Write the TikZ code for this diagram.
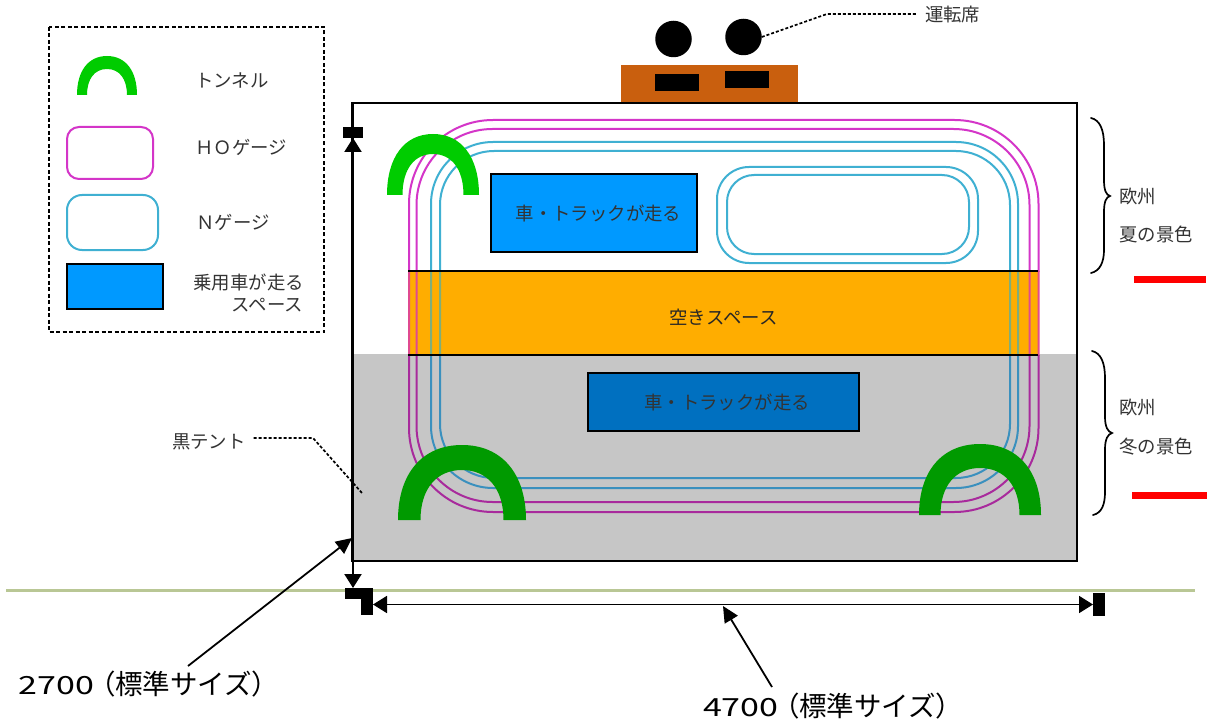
\documentclass[tikz,border=0pt]{standalone}
\usepackage{fontspec}
\setmainfont{Noto Sans CJK JP}
\newfontfamily\widedigits[FakeStretch=1.36]{Noto Sans CJK JP}
\newfontfamily\tightparen[RawFeature=+palt]{Noto Sans CJK JP}
\usetikzlibrary{arrows.meta,calc}
\definecolor{hoLine}{HTML}{D435C8}
\definecolor{nLine}{HTML}{3FB0D2}
\definecolor{hoOrange}{HTML}{E04A90}
\definecolor{nOrange}{HTML}{7FAE7A}
\definecolor{hoGray}{HTML}{A82A9C}
\definecolor{nGray}{HTML}{3A90BE}
\definecolor{tunnelLight}{HTML}{00CC00}
\definecolor{tunnelDark}{HTML}{009A00}
\definecolor{skyBox}{HTML}{0099FF}
\definecolor{deepBox}{HTML}{0070C0}
\definecolor{spare}{HTML}{FFAD00}
\definecolor{tent}{HTML}{C6C6C6}
\definecolor{cab}{HTML}{C95F0E}
\definecolor{ground}{HTML}{B9C795}
\definecolor{ink}{HTML}{333333}
\tikzset{
  every node/.style={inner sep=0pt,outer sep=0pt},
  label18/.style={font=\fontsize{18.4}{22}\selectfont,text=ink},
  sizelabel/.style={font=\fontsize{27.5}{32}\selectfont,text=black,anchor=west},
  blockbar/.style={fill=black,rectangle},
  dimarrow/.style={{Triangle[length=14pt,width=17pt]}-{Triangle[length=14pt,width=17pt]},line width=2.2pt},
  callout/.style={-{Triangle[length=16pt,width=15pt]},line width=1.8pt},
  leader/.style={densely dashed,line width=1.7pt,black},
  bracestroke/.style={line width=1.7pt,black,line cap=round},
  track/.style={line width=2pt}
}
% tunnel: centre x, base y, outer rx, outer ry, inner rx, inner ry, colour
\newcommand{\tunnelshape}[7]{%
  \fill[#7] (#1-#3,#2) .. controls (#1-#3,#2-0.62*#4) and (#1-0.62*#3,#2-#4) .. (#1,#2-#4)
    .. controls (#1+0.62*#3,#2-#4) and (#1+#3,#2-0.62*#4) .. (#1+#3,#2)
    -- (#1+#5,#2)
    .. controls (#1+#5,#2-0.62*#6) and (#1+0.62*#5,#2-#6) .. (#1,#2-#6)
    .. controls (#1-0.62*#5,#2-#6) and (#1-#5,#2-0.62*#6) .. (#1-#5,#2) -- cycle;}
% all track loops with given colours
\newcommand{\trackloops}[2]{%
  \draw[track,#1,rounded corners=84pt] (409,120) rectangle (1038.5,512);
  \draw[track,#1,rounded corners=76pt] (416.5,129) rectangle (1029.5,502);
  \draw[track,#2,rounded corners=62pt] (431,142) rectangle (1018,488);
  \draw[track,#2,rounded corners=54pt] (440,151) rectangle (1010,478);
  \draw[track,#2,rounded corners=32pt] (717,167) rectangle (978,263);
  \draw[track,#2,rounded corners=27pt] (727,175) rectangle (969,254);}
\begin{document}
\begin{tikzpicture}[x=1pt,y=-1pt]
\useasboundingbox (0,0) rectangle (1207,722);
\fill[white] (0,0) rectangle (1207,722);

% ground line
\coordinate (gl) at (6,590.5);
\coordinate (gr) at (1195,590.5);
\draw[ground,line width=2.4pt] (gl) -- (gr);

% cab and drivers
\node[fill=cab,rectangle,minimum width=177pt,minimum height=38pt] (cabin) at (709.5,84) {};
\node[blockbar,minimum width=44pt,minimum height=17pt] (seatA) at (677,82.5) {};
\node[blockbar,minimum width=44pt,minimum height=17pt] (seatB) at (747,80) {};
\node[circle,fill=black,minimum size=36.5pt] (driverA) at (673.5,39) {};
\node[circle,fill=black,minimum size=36.5pt] (driverB) at (743.5,37) {};

% layout
\fill[tent] (352.5,354) rectangle (1077,561);
\node[fill=spare,rectangle,minimum width=630pt,minimum height=84pt] (spare) at (723,313) {};
\begin{scope}
  \clip (340,90) rectangle (1090,271);
  \trackloops{hoLine}{nLine}
\end{scope}
\begin{scope}
  \clip (340,271) rectangle (1090,355);
  \trackloops{hoOrange}{nOrange}
\end{scope}
\begin{scope}
  \clip (340,355) rectangle (1090,570);
  \trackloops{hoGray}{nGray}
\end{scope}
\draw[black,line width=1.5pt] (spare.north west) -- (spare.north east);
\draw[black,line width=1.5pt] (spare.south west) -- (spare.south east);
\node[label18,text=black!85] (spareText) at (723.5,317.5) {空きスペース};
\draw[black,line width=2.2pt] (352.5,103) rectangle (1077,561);

\node[fill=skyBox,draw=black,line width=1.7pt,rectangle,minimum width=206pt,minimum height=78pt,label18] (carA) at (594,213) {\raisebox{-1.5pt}{\kern9pt 車・トラックが走る}};
\node[fill=deepBox,draw=black,line width=1.7pt,rectangle,minimum width=271pt,minimum height=58pt,label18] (carB) at (723.5,402) {\raisebox{-1.5pt}{\kern7pt 車・トラックが走る}};

\tunnelshape{433}{195}{46}{61}{30.5}{41}{tunnelLight}
\tunnelshape{462}{520}{64}{75}{41.5}{50}{tunnelDark}
\tunnelshape{980}{515}{61}{71}{39.5}{47}{tunnelDark}

% legend
\draw[black,line width=1.6pt,dash pattern=on 4pt off 2.5pt] (49,27) rectangle (324,332);
\tunnelshape{107}{95}{30}{39}{20}{26}{tunnelLight}
\node[draw=hoLine,line width=2pt,rectangle,rounded corners=12pt,minimum width=86pt,minimum height=52pt] (keyHO) at (110,153) {};
\node[draw=nLine,line width=2pt,rectangle,rounded corners=15pt,minimum width=91pt,minimum height=55pt] (keyN) at (112.5,222.5) {};
\node[fill=skyBox,draw=black,line width=1.7pt,rectangle,minimum width=96pt,minimum height=45pt] (keyCar) at (115,286.5) {};
\node[label18,anchor=west] (txtTunnel) at (195.5,81) {トンネル};
\node[label18,anchor=west] (txtHO) at (195.5,147) {ＨＯゲージ};
\node[label18,anchor=west] (txtN) at (196.5,222) {Ｎゲージ};
\node[label18,anchor=west] (txtCarA) at (193.5,282) {乗用車が走る};
\node[label18,anchor=east] (txtCarB) at (303,305) {スペース};

% dimension marks
\node[blockbar,minimum width=20pt,minimum height=11pt] (blkTop) at (353,132.5) {};
\node[blockbar,minimum width=28pt,minimum height=11pt] (blkV) at (359,593.5) {};
\node[blockbar,minimum width=12pt,minimum height=27pt] (blkH) at (367,601.5) {};
\node[blockbar,minimum width=12pt,minimum height=23pt] (blkR) at (1099,604.5) {};
\draw[dimarrow] (blkTop.south) -- (blkTop.south |- blkV.north);
\draw[dimarrow,line width=1.8pt] (blkH.east |- blkR.west) -- (blkR.west);

% size labels
\node[sizelabel] (size2700) at (19,684) {{\widedigits\fontsize{25}{30}\selectfont 2700}\kern7pt{\tightparen （}標準サイズ）};
\node[sizelabel] (size4700) at (703,706) {{\widedigits\fontsize{25}{30}\selectfont 4700}\kern7pt{\tightparen （}標準サイズ）};
\coordinate (from2700) at (188,666);
\coordinate (to2700) at (352,538);
\coordinate (from4700) at (772,687);
\coordinate (to4700) at (723,606);
\draw[callout] (from2700) -- (to2700);
\draw[callout] (from4700) -- (to4700);

% leaders
\node[label18,anchor=west] (txtDriver) at (925,15) {運転席};
\coordinate (bendDriver) at (827,14);
\draw[leader] (driverB.east) -- (bendDriver) -- ($(txtDriver.west)+(-8,-1)$);
\node[label18,anchor=west] (txtTent) at (172,442) {黒テント};
\coordinate (bendTent) at (313,438);
\coordinate (endTent) at (362,493);
\draw[leader] ($(txtTent.east)+(8,-4)$) -- (bendTent) -- (endTent);

% braces
\draw[bracestroke] (1091,118) .. controls (1100,120) and (1104,130) .. (1104,145) -- (1104,180) .. controls (1104,190) and (1106,195) .. (1110,196) .. controls (1106,197) and (1104,202) .. (1104,212) -- (1104,250) .. controls (1104,262) and (1100,271) .. (1091,273);
\draw[bracestroke] (1092,351) .. controls (1101,353) and (1105,363) .. (1105,378) -- (1105,417) .. controls (1105,427) and (1108,432) .. (1112,433) .. controls (1108,434) and (1105,439) .. (1105,449) -- (1105,492) .. controls (1105,504) and (1102,513) .. (1093,515);
\node[label18,anchor=west] (txtEuA) at (1119.5,196) {欧州};
\node[label18,anchor=west] (txtSummer) at (1119.5,234) {夏の景色};
\node[label18,anchor=west] (txtEuB) at (1119.5,407) {欧州};
\node[label18,anchor=west] (txtWinter) at (1119.5,447) {冬の景色};
\fill[red] (1134,276) rectangle (1206,283);
\fill[red] (1132,492) rectangle (1207,499);
\end{tikzpicture}
\end{document}
